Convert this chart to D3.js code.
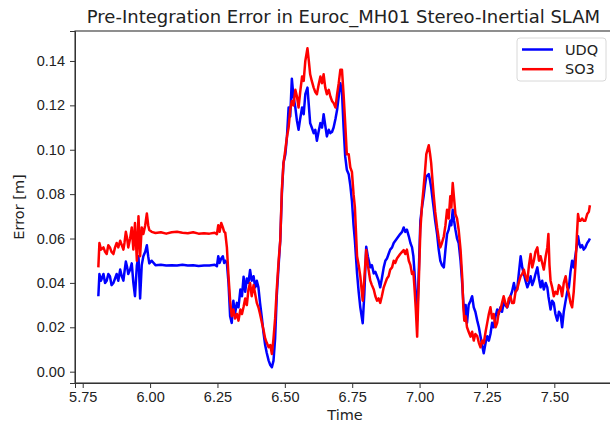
<!DOCTYPE html>
<html>
<head>
  <meta charset="utf-8">
  <title>Pre-Integration Error</title>
  <style>
    body { margin: 0; background: #fff; }
    svg { font-family: "DejaVu Sans", sans-serif; }
    .axis text { font-size: 14.5px; fill: #222; }
    .axis path, .axis line { stroke: #333; }
  </style>
  <script src="https://d3js.org/d3.v7.min.js"></script>
</head>
<body>
<svg width="610" height="424"></svg>
<script>
// time stamps [s]
var time = [5.808,5.812,5.818,5.827,5.833,5.839,5.845,5.851,5.857,5.864,5.870,5.876,5.882,5.889,5.895,5.901,5.905,5.910,5.915,5.919,
  5.926,5.932,5.938,5.944,5.951,5.957,5.963,5.969,5.975,5.982,5.988,5.993,5.997,6.006,6.02,6.04,6.06,6.08,6.10,6.12,
  6.14,6.16,6.18,6.20,6.22,6.24,6.248,6.253,6.258,6.264,6.27,6.275,6.279,6.285,6.291,6.297,6.303,6.309,6.315,6.322,
  6.328,6.335,6.341,6.347,6.353,6.359,6.365,6.371,6.377,6.384,6.39,6.396,6.402,6.408,6.415,6.421,6.427,6.433,6.44,6.446,
  6.452,6.458,6.464,6.47,6.477,6.483,6.489,6.495,6.502,6.508,6.514,6.52,6.526,6.532,6.539,6.545,6.551,6.557,6.564,6.57,
  6.576,6.584,6.589,6.594,6.60,6.607,6.613,6.619,6.625,6.632,6.638,6.644,6.65,6.656,6.663,6.669,6.675,6.681,6.688,6.694,
  6.70,6.706,6.712,6.718,6.724,6.73,6.737,6.743,6.749,6.755,6.76,6.768,6.774,6.78,6.789,6.795,6.802,6.808,6.817,6.823,
  6.83,6.836,6.842,6.848,6.854,6.86,6.867,6.873,6.879,6.885,6.891,6.898,6.904,6.91,6.916,6.922,6.928,6.935,6.941,6.947,
  6.953,6.96,6.966,6.972,6.977,6.981,6.986,6.991,6.997,7.003,7.009,7.015,7.02,7.025,7.034,7.039,7.043,7.048,7.052,7.058,
  7.065,7.071,7.077,7.083,7.09,7.096,7.102,7.108,7.114,7.118,7.123,7.128,7.133,7.139,7.145,7.152,7.158,7.162,7.166,7.171,
  7.176,7.182,7.189,7.195,7.201,7.207,7.214,7.22,7.226,7.232,7.238,7.245,7.251,7.257,7.263,7.269,7.275,7.282,7.288,7.294,
  7.30,7.306,7.312,7.318,7.325,7.331,7.337,7.343,7.35,7.356,7.362,7.368,7.375,7.381,7.387,7.393,7.40,7.406,7.412,7.418,
  7.424,7.43,7.437,7.443,7.449,7.455,7.461,7.468,7.474,7.478,7.482,7.486,7.492,7.498,7.504,7.511,7.517,7.523,7.529,7.535,
  7.542,7.548,7.554,7.56,7.566,7.572,7.579,7.584,7.588,7.592,7.597,7.603,7.609,7.615,7.622,7.628,7.632];

var udq = [0.034,0.044,0.041,0.044,0.040,0.041,0.044,0.043,0.039,0.040,0.042,0.044,0.041,0.046,0.043,0.041,0.045,0.0496,0.047,0.044,
  0.046,0.0488,0.040,0.034,0.048,0.052,0.033,0.048,0.052,0.054,0.057,0.052,0.0488,0.050,0.048,0.0482,0.0478,0.048,0.0478,0.0482,
  0.0478,0.048,0.0476,0.0478,0.0478,0.0482,0.0475,0.052,0.049,0.051,0.052,0.049,0.050,0.049,0.040,0.025,0.022,0.032,0.026,0.031,
  0.029,0.037,0.034,0.0428,0.036,0.042,0.040,0.0458,0.041,0.043,0.038,0.041,0.038,0.031,0.024,0.0174,0.012,0.0084,0.005,0.003,
  0.002,0.005,0.015,0.034,0.048,0.059,0.080,0.094,0.098,0.106,0.119,0.115,0.132,0.124,0.119,0.113,0.109,0.114,0.119,0.116,
  0.125,0.128,0.120,0.112,0.110,0.1075,0.109,0.104,0.108,0.112,0.110,0.116,0.111,0.106,0.109,0.1075,0.108,0.110,0.114,0.118,
  0.124,0.130,0.126,0.110,0.097,0.091,0.089,0.084,0.077,0.066,0.059,0.0443,0.036,0.029,0.0218,0.035,0.0563,0.052,0.047,0.048,
  0.0443,0.045,0.043,0.041,0.038,0.042,0.047,0.050,0.051,0.053,0.055,0.056,0.058,0.059,0.060,0.061,0.062,0.063,0.065,0.063,
  0.064,0.061,0.058,0.056,0.052,0.045,0.035,0.023,0.045,0.068,0.074,0.079,0.084,0.088,0.089,0.086,0.083,0.078,0.074,0.068,
  0.062,0.055,0.050,0.048,0.047,0.055,0.062,0.064,0.068,0.066,0.073,0.068,0.064,0.060,0.058,0.050,0.040,0.032,0.026,0.030,
  0.022,0.030,0.032,0.034,0.029,0.027,0.023,0.020,0.016,0.012,0.0083,0.013,0.016,0.014,0.017,0.022,0.020,0.025,0.028,0.026,
  0.029,0.027,0.031,0.030,0.029,0.031,0.034,0.036,0.040,0.036,0.037,0.044,0.052,0.047,0.044,0.041,0.038,0.040,0.043,0.039,
  0.041,0.044,0.047,0.042,0.038,0.041,0.037,0.040,0.038,0.034,0.031,0.028,0.032,0.031,0.026,0.023,0.027,0.026,0.020,0.027,
  0.032,0.036,0.038,0.045,0.050,0.047,0.053,0.057,0.061,0.058,0.056,0.057,0.055,0.056,0.058,0.059,0.060];

var so3 = [0.047,0.058,0.055,0.056,0.054,0.053,0.057,0.056,0.054,0.053,0.056,0.058,0.056,0.059,0.057,0.055,0.058,0.063,0.060,0.056,
  0.060,0.065,0.055,0.067,0.050,0.070,0.052,0.065,0.062,0.066,0.0713,0.066,0.0638,0.063,0.0625,0.0628,0.0622,0.0628,0.063,0.0626,
  0.0624,0.0628,0.0622,0.0624,0.0622,0.0626,0.062,0.066,0.063,0.067,0.065,0.063,0.0626,0.056,0.043,0.032,0.025,0.028,0.024,0.026,
  0.023,0.028,0.026,0.0293,0.033,0.030,0.037,0.040,0.034,0.039,0.035,0.031,0.029,0.026,0.022,0.0188,0.015,0.013,0.011,0.012,
  0.008,0.015,0.024,0.037,0.050,0.059,0.082,0.094,0.100,0.106,0.110,0.118,0.122,0.120,0.127,0.124,0.119,0.126,0.133,0.131,
  0.140,0.1457,0.140,0.134,0.131,0.128,0.126,0.125,0.129,0.133,0.130,0.134,0.128,0.125,0.127,0.124,0.122,0.121,0.119,0.125,
  0.130,0.136,0.136,0.125,0.112,0.098,0.098,0.092,0.090,0.080,0.074,0.052,0.048,0.043,0.032,0.042,0.0548,0.048,0.041,0.039,
  0.037,0.034,0.032,0.033,0.031,0.034,0.038,0.040,0.042,0.043,0.046,0.047,0.050,0.049,0.051,0.052,0.053,0.054,0.0548,0.053,
  0.055,0.050,0.048,0.044,0.045,0.038,0.028,0.0158,0.040,0.064,0.075,0.083,0.090,0.098,0.102,0.098,0.094,0.086,0.080,0.072,
  0.065,0.060,0.056,0.058,0.061,0.066,0.073,0.069,0.079,0.074,0.085,0.078,0.071,0.069,0.064,0.055,0.043,0.030,0.023,0.025,
  0.020,0.018,0.0158,0.018,0.014,0.017,0.016,0.013,0.011,0.014,0.0128,0.018,0.022,0.026,0.029,0.024,0.026,0.020,0.022,0.027,
  0.028,0.031,0.034,0.031,0.029,0.033,0.034,0.031,0.031,0.036,0.037,0.040,0.043,0.044,0.046,0.043,0.041,0.048,0.053,0.047,
  0.050,0.054,0.056,0.050,0.052,0.049,0.046,0.052,0.056,0.062,0.048,0.041,0.038,0.034,0.036,0.035,0.039,0.038,0.034,0.040,
  0.043,0.038,0.035,0.031,0.029,0.036,0.049,0.062,0.071,0.068,0.068,0.069,0.068,0.068,0.071,0.072,0.075];

var seriesNames = ["UDQ", "SO3"];
var seriesColors = ["#0000ff", "#ff0000"];
var xTicks = [5.75, 6.00, 6.25, 6.50, 6.75, 7.00, 7.25, 7.50];
var yTicks = [0.00, 0.02, 0.04, 0.06, 0.08, 0.10, 0.12, 0.14];

var svg = d3.select("svg"),
    margin = {top: 31, right: -2, bottom: 41, left: 75},
    width = +svg.attr("width") - margin.left - margin.right,
    height = +svg.attr("height") - margin.top - margin.bottom;

var x = d3.scaleLinear().domain([5.7214, 7.714]).range([0, width]),
    y = d3.scaleLinear().domain([-0.0051, 0.1535]).range([height, 0]);

var g = svg.append("g")
    .attr("transform", "translate(" + margin.left + "," + margin.top + ")");

var line = d3.line()
    .x(function(d) { return x(d[0]); })
    .y(function(d) { return y(d[1]); });

[udq, so3].forEach(function(vals, i) {
  g.append("path")
      .datum(time.map(function(t, k) { return [t, vals[k]]; }))
      .attr("fill", "none")
      .attr("stroke", seriesColors[i])
      .attr("stroke-width", 2.5)
      .attr("stroke-linejoin", "round")
      .attr("d", line);
});

g.append("g")
    .attr("class", "axis")
    .attr("transform", "translate(0," + height + ")")
    .call(d3.axisBottom(x).tickValues(xTicks).tickFormat(d3.format(".2f")).tickSizeOuter(0).tickSize(5).tickPadding(4));

g.append("g")
    .attr("class", "axis")
    .call(d3.axisLeft(y).tickValues(yTicks).tickFormat(d3.format(".2f")).tickSizeOuter(0).tickSize(5).tickPadding(5));

// frame
g.append("rect")
    .attr("width", width)
    .attr("height", height)
    .attr("fill", "none")
    .attr("stroke", "#333")
    .attr("stroke-width", 1.1);

svg.append("text")
    .attr("x", margin.left + width / 2)
    .attr("y", 23)
    .attr("text-anchor", "middle")
    .style("font-size", "18px")
    .style("fill", "#222")
    .text("Pre-Integration Error in Euroc_MH01 Stereo-Inertial SLAM");

svg.append("text")
    .attr("x", 345)
    .attr("y", 420)
    .attr("text-anchor", "middle")
    .style("font-size", "14.5px")
    .style("fill", "#222")
    .text("Time");

svg.append("text")
    .attr("transform", "translate(24," + (margin.top + height / 2) + ") rotate(-90)")
    .attr("text-anchor", "middle")
    .style("font-size", "14.5px")
    .style("fill", "#222")
    .text("Error [m]");

// legend
var legend = svg.append("g").attr("transform", "translate(517,38)");
legend.append("rect")
    .attr("width", 89)
    .attr("height", 43)
    .attr("rx", 3)
    .attr("fill", "#fff")
    .attr("fill-opacity", 0.8)
    .attr("stroke", "#d8d8d8");
seriesNames.forEach(function(name, i) {
  var row = legend.append("g").attr("transform", "translate(0," + (11.5 + i * 19.7) + ")");
  row.append("line")
      .attr("x1", 5).attr("x2", 36)
      .attr("stroke", seriesColors[i])
      .attr("stroke-width", 2.5);
  row.append("text")
      .attr("x", 48)
      .attr("dy", "0.35em")
      .style("font-size", "14.5px")
      .style("fill", "#222")
      .text(name);
});
</script>
</body>
</html>
